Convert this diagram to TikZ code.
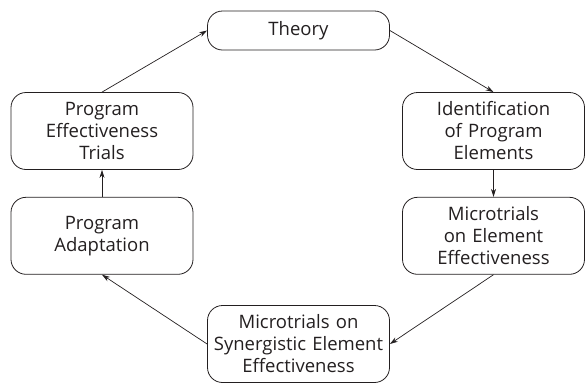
\documentclass[tikz,border=0pt]{standalone}
\usepackage{fontspec}
\setsansfont{Open Sans}
\usetikzlibrary{arrows.meta,positioning}
\definecolor{edgec}{HTML}{231F20}

\begin{document}
\begin{tikzpicture}[
  x=1pt, y=-1pt,
  font=\sffamily\fontsize{18.5}{22}\selectfont,
  >={Stealth[length=8pt, width=5pt]},
  box/.style={rectangle, rounded corners=15pt, draw=edgec, line width=0.8pt,
              align=center, inner sep=2pt, text width=176pt, minimum width=182pt,
              minimum height=77pt, text=edgec},
  flat/.style={box, minimum height=39pt},
  flow/.style={->, draw=edgec, line width=0.7pt},
]
\useasboundingbox (0,0) rectangle (585,384);

% ---- cycle of stages ----
\node[flat] (theory) at (298.5,30.5) {Theory};
\node[box] (ident) at (493.5,131) {Identification\\of Program\\Elements};
\node[box, below=27pt of ident] (micro) {Microtrials\\on Element\\Effectiveness};
\node[box] (syn) at (298.5,344) {Microtrials on\\Synergistic Element\\Effectiveness};
\node[box] (trials) at (102,131) {Program\\Effectiveness\\Trials};
\node[box, below=27pt of trials] (adapt) {Program\\Adaptation};

% ---- flow ----
\draw[flow] (theory.east) -- (ident.north);
\draw[flow] (ident.south) -- (micro.north);
\draw[flow] (micro.south) -- (syn.east);
\draw[flow] (syn.west) -- (adapt.south);
\draw[flow] (adapt.north) -- (trials.south);
\draw[flow] (trials.north) -- (theory.west);
\end{tikzpicture}
\end{document}
